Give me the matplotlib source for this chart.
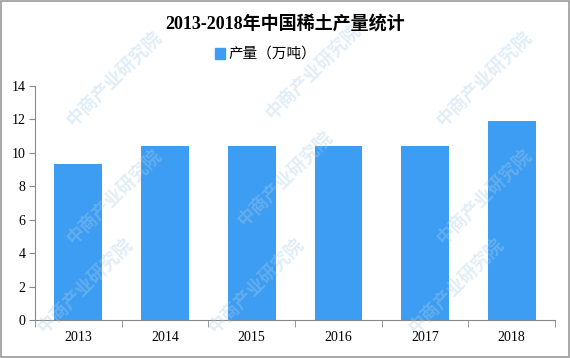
import matplotlib.pyplot as plt
import numpy as np

plt.rcParams['font.family'] = ['Liberation Serif', 'Noto Sans CJK SC', 'DejaVu Sans']

years = ["2013", "2014", "2015", "2016", "2017", "2018"]
output = [9.33, 10.4, 10.4, 10.4, 10.4, 11.9]
title = "2013-2018年中国稀土产量统计"
series_name = "产量（万吨）"

fig = plt.figure(figsize=(5.7, 3.58), dpi=100)
ax = fig.add_axes([0.0614, 0.106, 0.9123, 0.654])

x = np.arange(len(years))
ax.bar(x, output, width=0.55, color="#3d9df2", zorder=2)

ax.set_xlim(-0.5, len(years) - 0.5)
ax.set_ylim(0, 14)
ax.set_yticks(np.arange(0, 15, 2))
ax.set_xticks(x)
ax.set_xticklabels(years)
ax.set_xticks(np.arange(-0.5, len(years), 1), minor=True)
ax.tick_params(axis='x', which='major', length=0, pad=8, labelsize=10)
ax.tick_params(axis='x', which='minor', length=5, color="#888888")
ax.tick_params(axis='y', length=4, color="#888888", labelsize=10, pad=3)
for s in ["top", "right"]:
    ax.spines[s].set_visible(False)
for s in ["left", "bottom"]:
    ax.spines[s].set_color("#888888")

fig.text(0.5, 0.935, title, ha='center', va='center', fontsize=13, fontweight='bold')
fig.patches.append(plt.Rectangle((0.377, 0.835), 0.018, 0.03, color="#3d9df2",
                                 transform=fig.transFigure))
fig.text(0.401, 0.851, series_name, ha='left', va='center', fontsize=10.5,
         family=['Noto Sans CJK SC'])

# watermark
for wx, wy in [(0.2, 0.78), (0.55, 0.8), (0.85, 0.78), (0.2, 0.45), (0.5, 0.5),
               (0.85, 0.45), (0.15, 0.2), (0.45, 0.2), (0.8, 0.2)]:
    fig.text(wx, wy, "中商产业研究院", rotation=45, fontsize=13, color="#a8cde8",
             alpha=0.35, ha='center', va='center', family=['Noto Sans CJK SC'],
             fontweight='bold', zorder=0)

fig.patches.append(plt.Rectangle((0.001, 0.002), 0.997, 0.995, fill=False,
                                 edgecolor="#999999", linewidth=1.2,
                                 transform=fig.transFigure))

fig.savefig("out.png", dpi=100)
